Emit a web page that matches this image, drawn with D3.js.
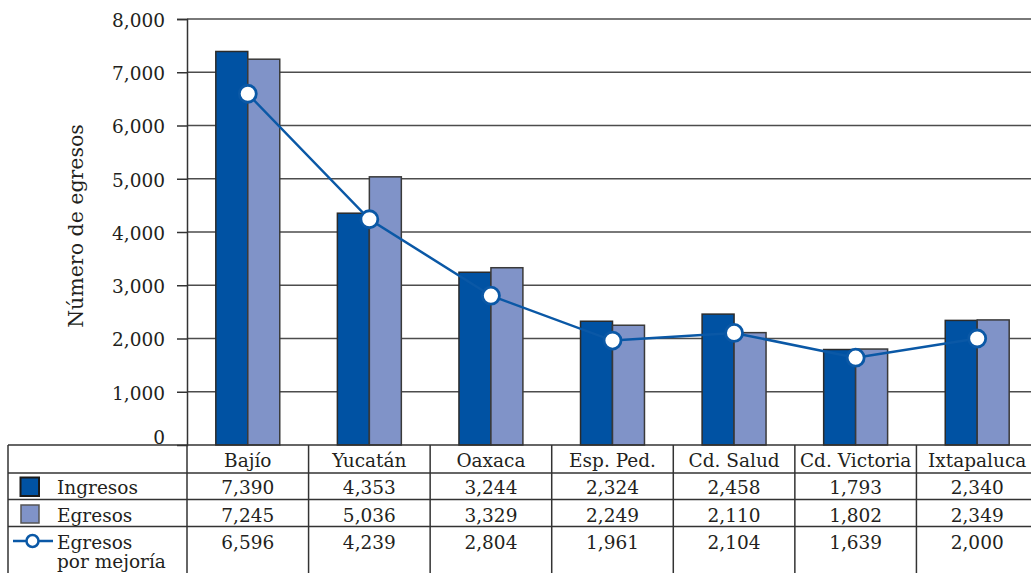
<!DOCTYPE html>
<html>
<head>
<meta charset="utf-8">
<script src="https://cdn.jsdelivr.net/npm/d3@7"></script>
<style>
  html, body { margin: 0; padding: 0; background: #fff; }
  svg { display: block; }
  text { font-family: "DejaVu Serif", serif; fill: #231f20; }
</style>
</head>
<body>
<svg id="chart" width="1031" height="573"></svg>
<script>
// Hospital units shown along the x axis
const categories = ["Bajío", "Yucatán", "Oaxaca", "Esp. Ped.", "Cd. Salud", "Cd. Victoria", "Ixtapaluca"];
// Series values per unit
const ingresos = [7390, 4353, 3244, 2324, 2458, 1793, 2340];
const egresos = [7245, 5036, 3329, 2249, 2110, 1802, 2349];
const egresosMejoria = [6596, 4239, 2804, 1961, 2104, 1639, 2000];
// Y axis ticks
const yTicks = [0, 1000, 2000, 3000, 4000, 5000, 6000, 7000, 8000];
// Table row labels
const rowLabels = [["Ingresos"], ["Egresos"], ["Egresos", "por mejoría"]];

const colDark = "#0052a3";
const colLight = "#8093c8";
const colLine = "#0a58a6";
const ink = "#333";

const svg = d3.select("#chart");

const plotLeft = 187, plotRight = 1038, plotTop = 19, plotBottom = 445;

const x = d3.scaleBand().domain(categories).range([plotLeft, plotRight]).padding(0);
const y = d3.scaleLinear().domain([0, 8000]).range([plotBottom, plotTop]);
const barW = x.bandwidth() * 0.263;

// Gridlines
svg.append("g")
  .selectAll("line")
  .data(yTicks.filter(d => d > 0))
  .join("line")
  .attr("x1", plotLeft).attr("x2", 1031)
  .attr("y1", d => y(d)).attr("y2", d => y(d))
  .attr("stroke", "#4d4d4d").attr("stroke-width", 1.5);

// Y axis
const yAxis = d3.axisLeft(y).tickValues(yTicks).tickSize(10).tickPadding(12)
  .tickFormat(d3.format(","));
const gy = svg.append("g").attr("transform", `translate(${plotLeft},0)`).call(yAxis);
gy.select(".domain").attr("stroke", ink).attr("stroke-width", 1.5);
gy.selectAll(".tick line").attr("stroke", ink).attr("stroke-width", 1.5);
gy.selectAll(".tick text")
  .style("font-family", "DejaVu Serif, serif")
  .style("font-size", "18.5px")
  .attr("fill", "#231f20")
  .attr("dy", d => d === 0 ? "-0.1em" : "0.4em");
gy.selectAll(".tick").filter(d => d === 0).select("line").remove();

// Axis title
svg.append("text")
  .attr("transform", `translate(83,226) rotate(-90)`)
  .attr("text-anchor", "middle")
  .style("font-size", "20.5px")
  .text("Número de egresos");

// Bars
const groups = svg.append("g").selectAll("g")
  .data(categories)
  .join("g")
  .attr("transform", d => `translate(${x(d) + x.bandwidth() / 2},0)`);

groups.append("rect")
  .attr("x", -barW).attr("width", barW)
  .attr("y", (d, i) => y(ingresos[i]))
  .attr("height", (d, i) => y(0) - y(ingresos[i]))
  .attr("fill", colDark).attr("stroke", "#2b2b2b").attr("stroke-width", 1.5);

groups.append("rect")
  .attr("x", 0).attr("width", barW)
  .attr("y", (d, i) => y(egresos[i]))
  .attr("height", (d, i) => y(0) - y(egresos[i]))
  .attr("fill", colLight).attr("stroke", "#3a3a3a").attr("stroke-width", 1.5);

// Line series with open markers
const line = d3.line()
  .x((d, i) => x(categories[i]) + x.bandwidth() / 2)
  .y(d => y(d));

svg.append("path")
  .datum(egresosMejoria)
  .attr("d", line)
  .attr("fill", "none").attr("stroke", colLine).attr("stroke-width", 2.5);

svg.append("g").selectAll("circle")
  .data(egresosMejoria)
  .join("circle")
  .attr("cx", (d, i) => x(categories[i]) + x.bandwidth() / 2)
  .attr("cy", d => y(d))
  .attr("r", 8.5)
  .attr("fill", "#fff").attr("stroke", colLine).attr("stroke-width", 2.8);

// Data table
const rowEdges = [445, 473, 499.5, 526.5];
const table = svg.append("g");
const tableLeft = 8;

// horizontal rules
table.selectAll("line.h")
  .data(rowEdges)
  .join("line")
  .attr("x1", tableLeft).attr("x2", 1031)
  .attr("y1", d => d).attr("y2", d => d)
  .attr("stroke", ink).attr("stroke-width", 1.5);

// vertical rules
const colEdges = [tableLeft, plotLeft].concat(categories.slice(1).map(c => x(c)));
table.selectAll("line.v")
  .data(colEdges)
  .join("line")
  .attr("x1", d => d).attr("x2", d => d)
  .attr("y1", 445).attr("y2", 573)
  .attr("stroke", ink).attr("stroke-width", 1.5);

// header row: category names
table.selectAll("text.cat")
  .data(categories)
  .join("text")
  .attr("x", d => x(d) + x.bandwidth() / 2)
  .attr("y", 467)
  .attr("text-anchor", "middle")
  .style("font-size", "18.5px")
  .text(d => d);

// value rows
const series = [ingresos, egresos, egresosMejoria];
const baselines = [494, 521.5, 548.5];
const fmt = d3.format(",");
series.forEach((vals, r) => {
  table.append("g").selectAll("text")
    .data(vals)
    .join("text")
    .attr("x", (d, i) => x(categories[i]) + x.bandwidth() / 2)
    .attr("y", baselines[r])
    .attr("text-anchor", "middle")
    .style("font-size", "18.5px")
    .text(d => fmt(d));
});

// row labels
rowLabels.forEach((lines, r) => {
  lines.forEach((t, k) => {
    table.append("text")
      .attr("x", 57)
      .attr("y", baselines[r] + k * 19)
      .style("font-size", "18.5px")
      .text(t);
  });
});

// legend keys in the table
table.append("rect")
  .attr("x", 20.5).attr("y", 477.5).attr("width", 18.5).attr("height", 18.5)
  .attr("fill", colDark).attr("stroke", "#1a1a1a").attr("stroke-width", 2);
table.append("rect")
  .attr("x", 21).attr("y", 505).attr("width", 18).attr("height", 18)
  .attr("fill", colLight).attr("stroke", "#555").attr("stroke-width", 1.5);
table.append("line")
  .attr("x1", 13).attr("x2", 53).attr("y1", 541).attr("y2", 541)
  .attr("stroke", colLine).attr("stroke-width", 2.5);
table.append("circle")
  .attr("cx", 32.5).attr("cy", 541).attr("r", 6)
  .attr("fill", "#fff").attr("stroke", colLine).attr("stroke-width", 2.5);
</script>
</body>
</html>
